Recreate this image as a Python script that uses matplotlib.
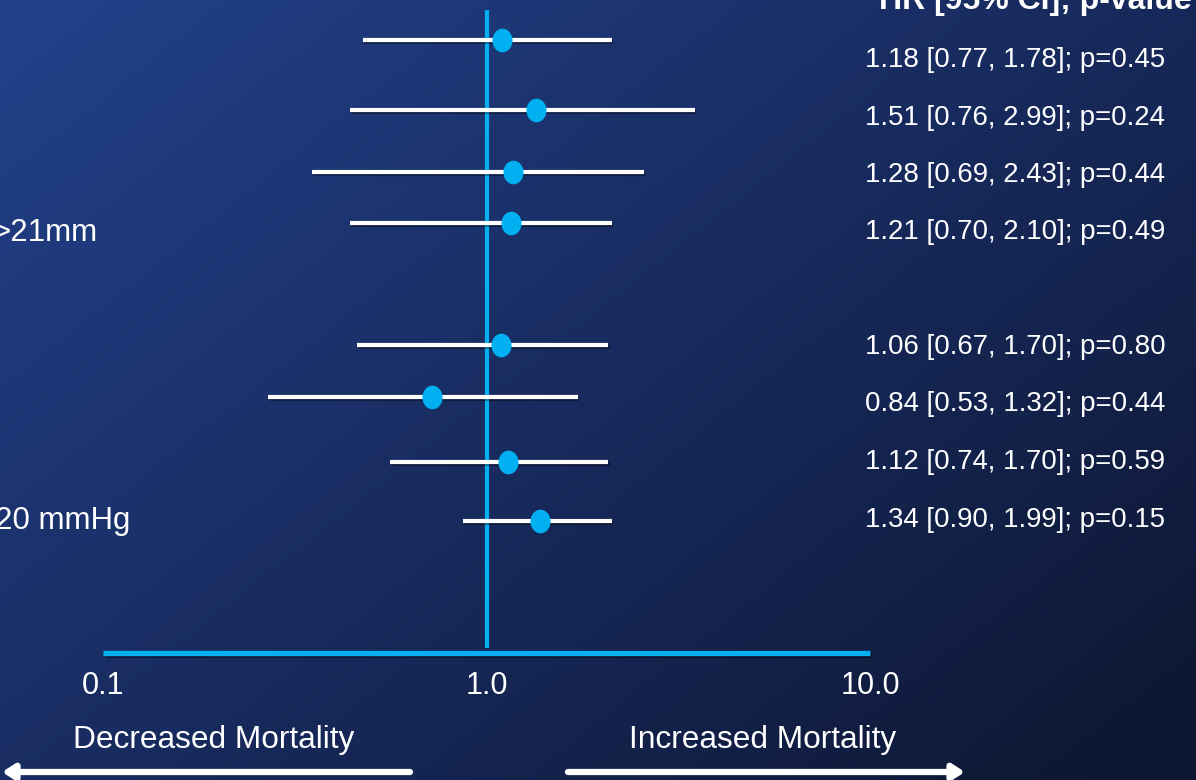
import numpy as np
import matplotlib
matplotlib.use("Agg")
import matplotlib.pyplot as plt
import matplotlib.patheffects as pe
from matplotlib.colors import LinearSegmentedColormap
from matplotlib.path import Path

plt.rcParams["font.family"] = ["Liberation Sans", "DejaVu Sans"]

# HR and 95% CI as drawn on the slide
hr_drawn = [1.10, 1.35, 1.17, 1.16, 1.09, 0.72, 1.14, 1.375]
lo_drawn = [0.475, 0.44, 0.35, 0.44, 0.46, 0.27, 0.56, 0.87]
hi_drawn = [2.12, 3.49, 2.57, 2.12, 2.08, 1.73, 2.08, 2.12]

# printed labels on the right
hr_text = ["1.18 [0.77, 1.78]; p=0.45",
           "1.51 [0.76, 2.99]; p=0.24",
           "1.28 [0.69, 2.43]; p=0.44",
           "1.21 [0.70, 2.10]; p=0.49",
           "1.06 [0.67, 1.70]; p=0.80",
           "0.84 [0.53, 1.32]; p=0.44",
           "1.12 [0.74, 1.70]; p=0.59",
           "1.34 [0.90, 1.99]; p=0.15"]
left_labels = {3: ">21mm", 7: "20 mmHg"}
ticks = [0.1, 1.0, 10.0]
tick_labels = ["0.1", "1.0", "10.0"]

# layout (pixel rows, top = 0)
W, H = 1196, 780
row_y = [40, 110, 172, 223, 345, 397, 462, 521]
text_y = [60, 118, 175, 232, 347, 404, 462, 520]
left_x = {3: 98, 7: 130}

fig = plt.figure(figsize=(W / 100, H / 100), dpi=100)

# gradient background
bg = fig.add_axes([0, 0, 1, 1])
bg.axis("off")
gx, gy = np.meshgrid(np.linspace(0, 1, 300), np.linspace(0, 1, 200))
g = 0.55 * gx + 0.45 * gy
cmap = LinearSegmentedColormap.from_list("slide", ["#22418b", "#182b5e", "#0d1630"])
bg.imshow(g, cmap=cmap, aspect="auto", extent=[0, 1, 1, 0], origin="upper")
bg.set_xlim(0, 1)
bg.set_ylim(1, 0)

ax = fig.add_axes([0, 0, 1, 1])
ax.patch.set_alpha(0)
ax.set_xscale("log")
dec = 383.5  # px per decade
ax.set_xlim(0.1 / 10 ** (103 / dec), 10 * 10 ** ((W - 870) / dec))
ax.set_ylim(H, 0)
ax.axis("off")

shadow = [pe.SimpleLineShadow(offset=(1.2, -1.5), alpha=0.35, shadow_color="black"), pe.Normal()]

# slightly tall oval marker
th = np.linspace(0, 2 * np.pi, 60)
oval = Path(np.column_stack([0.85 * np.cos(th), np.sin(th)]), closed=True)

# reference line at HR = 1 and x axis
ax.plot([1.0, 1.0], [10, 648], color="#00b0f0", lw=3, solid_capstyle="butt", zorder=2)
ax.plot([0.1, 10.0], [653, 653], color="#00b0f0", lw=3.8, solid_capstyle="butt",
        path_effects=shadow, zorder=2)

for y, lo, hi, hr in zip(row_y, lo_drawn, hi_drawn, hr_drawn):
    ax.plot([lo, hi], [y, y], color="white", lw=3, solid_capstyle="butt",
            path_effects=shadow, zorder=3)
    ax.plot(hr, y, marker=oval, color="#00b0f0", ms=17, mec="none", zorder=4)

tr = matplotlib.transforms.blended_transform_factory(ax.transAxes, ax.transData)
for y, t in zip(text_y, hr_text):
    ax.text(865 / W, y, t, transform=tr, color="white", fontsize=19.9,
            ha="left", va="center")

ax.text(879 / W, 8.5, "HR [95% CI]; p-value", transform=tr, color="white",
        fontsize=23, fontweight="bold", ha="left", va="baseline")

for i, lab in left_labels.items():
    ax.text(left_x[i] / W, text_y[i] + 1, lab, transform=tr,
            color="white", fontsize=22.5, ha="right", va="center")

for t, lab in zip(ticks, tick_labels):
    ax.text(t, 686, lab, color="white", fontsize=22, ha="center", va="center")

ax.text(214 / W, 740, "Decreased Mortality", transform=tr, color="white",
        fontsize=22.8, ha="center", va="center")
ax.text(763 / W, 740, "Increased Mortality", transform=tr, color="white",
        fontsize=22.8, ha="center", va="center")

arrow = dict(arrowstyle="-|>,head_length=0.7,head_width=0.45", color="white",
             lw=4.5, shrinkA=0, shrinkB=0)
ax.annotate("", xy=(2 / W, 772), xytext=(410 / W, 772), xycoords=tr,
            textcoords=tr, arrowprops=arrow)
ax.annotate("", xy=(965 / W, 772), xytext=(568 / W, 772), xycoords=tr,
            textcoords=tr, arrowprops=arrow)

fig.savefig("out.png", dpi=100)
